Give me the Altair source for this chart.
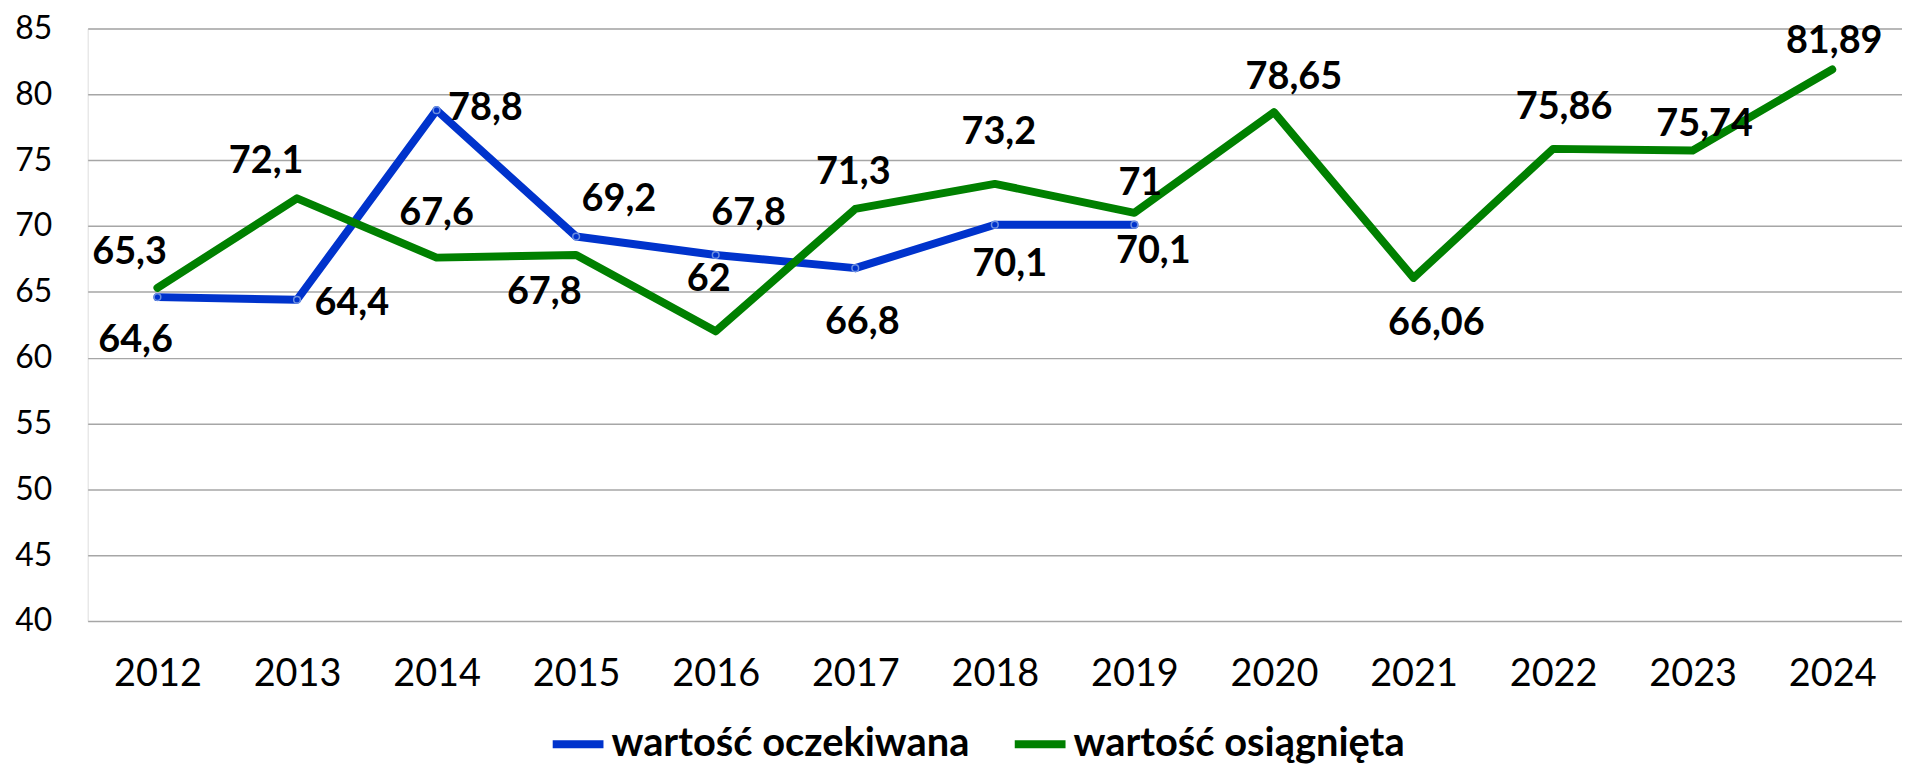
import altair as alt
import pandas as pd

# ---- data ----
years = ["2012", "2013", "2014", "2015", "2016", "2017", "2018",
         "2019", "2020", "2021", "2022", "2023", "2024"]
expected = [64.6, 64.4, 78.8, 69.2, 67.8, 66.8, 70.1, 70.1,
            None, None, None, None, None]
achieved = [65.3, 72.1, 67.6, 67.8, 62, 71.3, 73.2, 71,
            78.65, 66.06, 75.86, 75.74, 81.89]
series_names = ["wartość oczekiwana", "wartość osiągnięta"]
y_ticks = [40, 45, 50, 55, 60, 65, 70, 75, 80, 85]

# ---- label placement (style: pixel offsets of each value label from its point) ----
expected_label_offsets = [(-22, 44), (55, 4), (49, -1), (43, -37), (33, -41),
                          (7, 55), (15, 41), (19, 27)]
achieved_label_offsets = [(-28, -35), (-31, -36), (0, -44), (-32, 38), (-7, -52),
                          (-2, -36), (4, -51), (6, -29), (20, -34), (23, 46),
                          (11, -41), (12, -25), (2, -28)]

BLUE = "#0033CC"
GREEN = "#008000"
FONT = "Lato"


def fmt(v):
    return f"{v:g}".replace(".", ",")


rows = []
for name, vals, offs in [(series_names[0], expected, expected_label_offsets),
                         (series_names[1], achieved, achieved_label_offsets)]:
    k = 0
    for yr, v in zip(years, vals):
        if v is None:
            continue
        rows.append({"year": yr, "series": name, "value": v, "label": fmt(v),
                     "key": f"{name}-{yr}", "dx": offs[k][0], "dy": offs[k][1]})
        k += 1
df = pd.DataFrame(rows)

x_enc = alt.X("year:O", sort=years, title=None,
              scale=alt.Scale(type="point", padding=0.5),
              axis=alt.Axis(labelAngle=0, grid=False, domain=False, ticks=False,
                            labelFont=FONT, labelFontSize=38, labelColor="#000000",
                            labelBaseline="middle", labelPadding=54))
y_enc = alt.Y("value:Q", title=None,
              scale=alt.Scale(domain=[40, 85], nice=False, zero=False),
              axis=alt.Axis(values=y_ticks, grid=True, gridColor="#A6A6A6",
                            gridWidth=1.5, domain=False, ticks=False,
                            labelFont=FONT, labelFontSize=32, labelColor="#000000",
                            labelPadding=36))
color_enc = alt.Color("series:N",
                      scale=alt.Scale(domain=series_names, range=[BLUE, GREEN]),
                      legend=alt.Legend(title=None, orient="none", legendX=463,
                                        legendY=689, direction="horizontal",
                                        symbolType="stroke", symbolStrokeWidth=8,
                                        symbolSize=2600, labelFont=FONT,
                                        labelFontWeight="bold", labelFontSize=40,
                                        labelColor="#000000", columnPadding=29,
                                        labelOffset=4, padding=0, labelLimit=0))

base = alt.Chart(df)

blue_line = base.transform_filter(alt.datum.series == series_names[0]).mark_line(
    strokeWidth=8, strokeCap="round", strokeJoin="round"
).encode(x=x_enc, y=y_enc, color=color_enc)

blue_pts = base.transform_filter(alt.datum.series == series_names[0]).mark_point(
    shape="circle", size=45, filled=True, fill=BLUE, stroke="#6C8FE0",
    strokeWidth=1.5, opacity=1
).encode(x=x_enc, y=y_enc)

green_line = base.transform_filter(alt.datum.series == series_names[1]).mark_line(
    strokeWidth=8, strokeCap="round", strokeJoin="round"
).encode(x=x_enc, y=y_enc, color=color_enc)

labels = []
for r in rows:
    labels.append(
        base.transform_filter(alt.datum.key == r["key"]).mark_text(
            font=FONT, fontWeight="bold", fontSize=38, color="#000000",
            align="center", baseline="middle", dx=r["dx"], dy=r["dy"]
        ).encode(x=x_enc, y=y_enc, text="label:N")
    )

chart = alt.layer(blue_line, blue_pts, green_line, *labels).properties(
    width=1822, height=595,
    padding={"left": 80, "top": 19, "right": 0, "bottom": 145},
    autosize=alt.AutoSizeParams(type="none"),
).configure_view(stroke=None).configure(background="#FFFFFF")

chart.save("out.html", embed_options={"renderer": "svg", "actions": False})
